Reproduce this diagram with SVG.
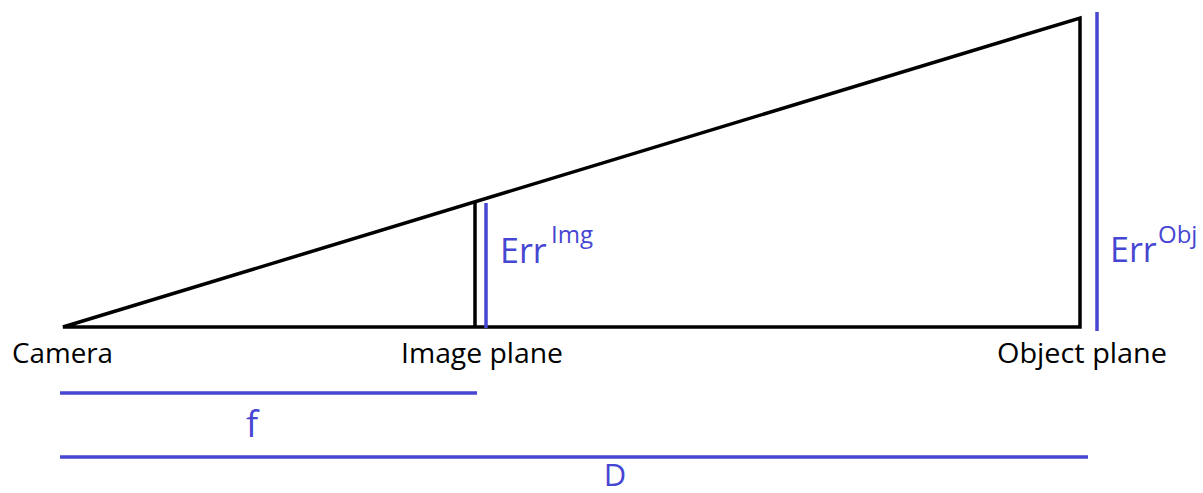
<svg xmlns="http://www.w3.org/2000/svg" width="1203" height="493" viewBox="0 0 1203 493">
<style>
.blk{stroke:#000;stroke-width:3.5;fill:none;stroke-linejoin:miter}
.blu{stroke:#4646d2;stroke-width:3.5;fill:none}
.lbl{font-family:"Open Sans","Noto Sans",sans-serif;font-size:28px;fill:#000}
.bt{font-family:"Open Sans","Noto Sans",sans-serif;fill:#4646d2}
</style>
<rect width="1203" height="493" fill="#fff"/>
<g id="connectors">
<path class="blk" d="M63,327 L1080,327 L1080,18 Z"/>
<line class="blk" x1="475" y1="202" x2="475" y2="327"/>
<line class="blu" x1="486" y1="203" x2="486" y2="328"/>
<line class="blu" x1="1097" y1="12" x2="1097" y2="331"/>
<line class="blu" x1="60" y1="393" x2="477" y2="393"/>
<line class="blu" x1="60" y1="457" x2="1088" y2="457"/>
</g>
<g id="camera"><text class="lbl" x="12" y="363" textLength="101" lengthAdjust="spacingAndGlyphs">Camera</text></g>
<g id="image-plane"><text class="lbl" x="401" y="363" textLength="162" lengthAdjust="spacingAndGlyphs">Image plane</text></g>
<g id="object-plane"><text class="lbl" x="997" y="363" textLength="170" lengthAdjust="spacingAndGlyphs">Object plane</text></g>
<g id="err-img"><text class="bt" x="500" y="263" font-size="34">Err</text><text class="bt" x="551" y="243" font-size="24">Img</text></g>
<g id="err-obj"><text class="bt" x="1110" y="262" font-size="34">Err</text><text class="bt" x="1158" y="243" font-size="24">Obj</text></g>
<g id="f-label"><text class="bt" x="252" y="437" font-size="36" text-anchor="middle">f</text></g>
<g id="d-label"><text class="bt" x="615" y="486" font-size="31" text-anchor="middle">D</text></g>
</svg>
